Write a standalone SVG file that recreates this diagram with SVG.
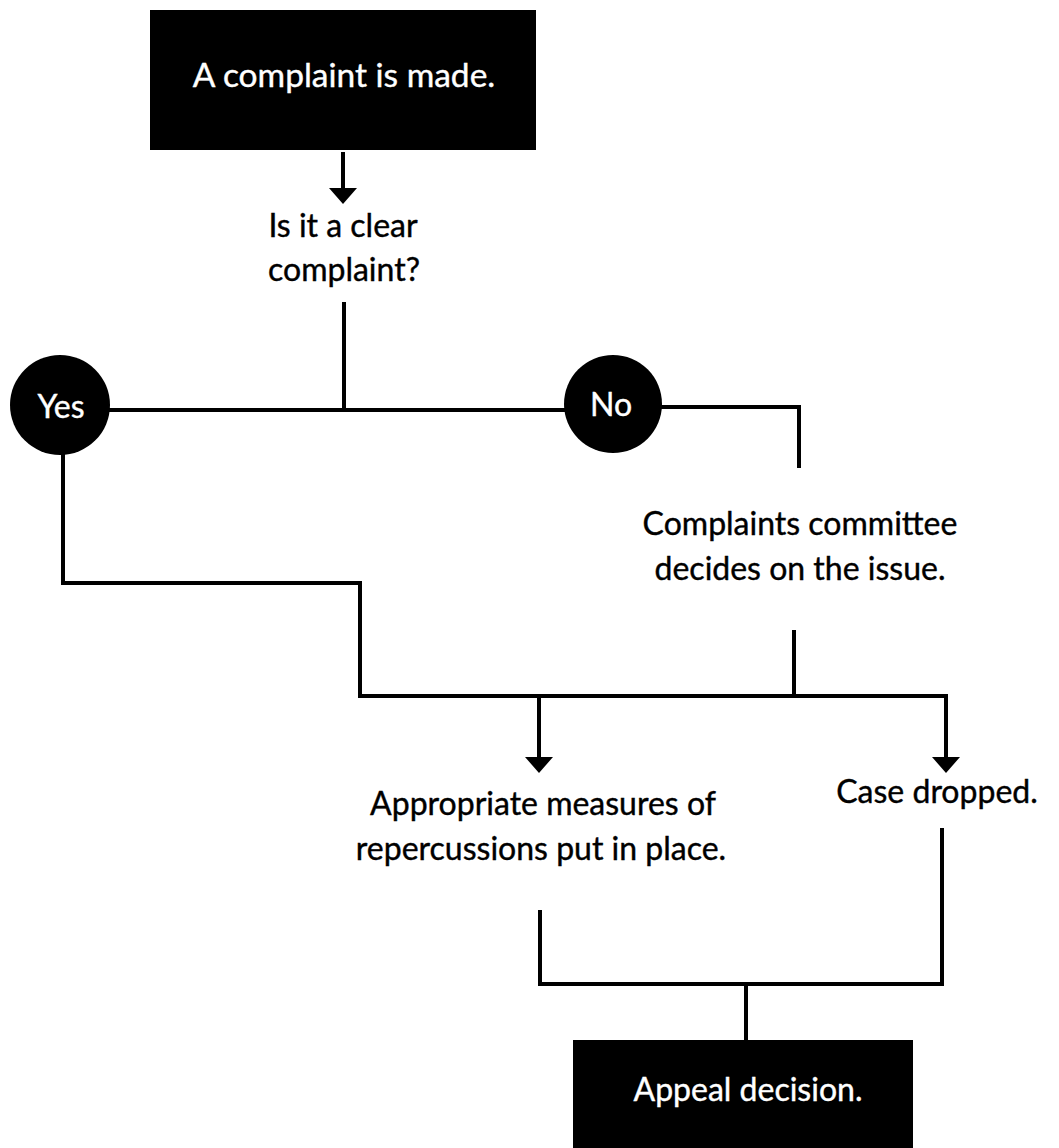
<svg xmlns="http://www.w3.org/2000/svg" width="1059" height="1148" viewBox="0 0 1059 1148">
<style>
  .t { font-family: Lato, "Open Sans", "Liberation Sans", sans-serif; font-size: 32px; text-anchor: middle; fill: #000; stroke: #000; stroke-width: 0.4; }
  .w { fill: #fff; stroke: #fff; }
  .ln { fill: none; stroke: #000; stroke-width: 4; }
</style>
<defs>
  <marker id="ah" markerUnits="userSpaceOnUse" markerWidth="28" markerHeight="16" refX="14" refY="0" orient="0" viewBox="0 0 28 16">
    <path d="M0,0 L28,0 L14,16 Z" fill="#000"/>
  </marker>
</defs>
<rect width="1059" height="1148" fill="#fff"/>
<g id="connectors">
  <path class="ln" d="M343,152 V188" marker-end="url(#ah)"/>
  <path class="ln" d="M344,302 V410"/>
  <path class="ln" d="M108,410 H566"/>
  <path class="ln" d="M661,407 H799 V468"/>
  <path class="ln" d="M63,454 V583 H360 V696 H946 V757" marker-end="url(#ah)"/>
  <path class="ln" d="M794,630 V696"/>
  <path class="ln" d="M539,696 V757" marker-end="url(#ah)"/>
  <path class="ln" d="M540,910 V984 H942 V828"/>
  <path class="ln" d="M746,984 V1040"/>
</g>
<g id="start">
  <rect x="150" y="10" width="386" height="140" fill="#000"/>
  <text class="t w" x="344" y="87" style="font-size:33.5px">A complaint is made.</text>
</g>
<g id="question">
  <text class="t" x="343" y="237">Is it a clear</text>
  <text class="t" x="344" y="281">complaint?</text>
</g>
<g id="yes">
  <circle cx="60" cy="405" r="50" fill="#000"/>
  <text class="t w" x="61" y="418">Yes</text>
</g>
<g id="no">
  <circle cx="613" cy="404" r="49" fill="#000"/>
  <text class="t w" x="611" y="416">No</text>
</g>
<g id="committee">
  <text class="t" x="800" y="535">Complaints committee</text>
  <text class="t" x="800" y="580">decides on the issue.</text>
</g>
<g id="measures">
  <text class="t" x="543" y="815">Appropriate measures of</text>
  <text class="t" x="541" y="860">repercussions put in place.</text>
</g>
<g id="dropped">
  <text class="t" x="937" y="803">Case dropped.</text>
</g>
<g id="appeal">
  <rect x="573" y="1040" width="340" height="108" fill="#000"/>
  <text class="t w" x="748" y="1101">Appeal decision.</text>
</g>
</svg>
